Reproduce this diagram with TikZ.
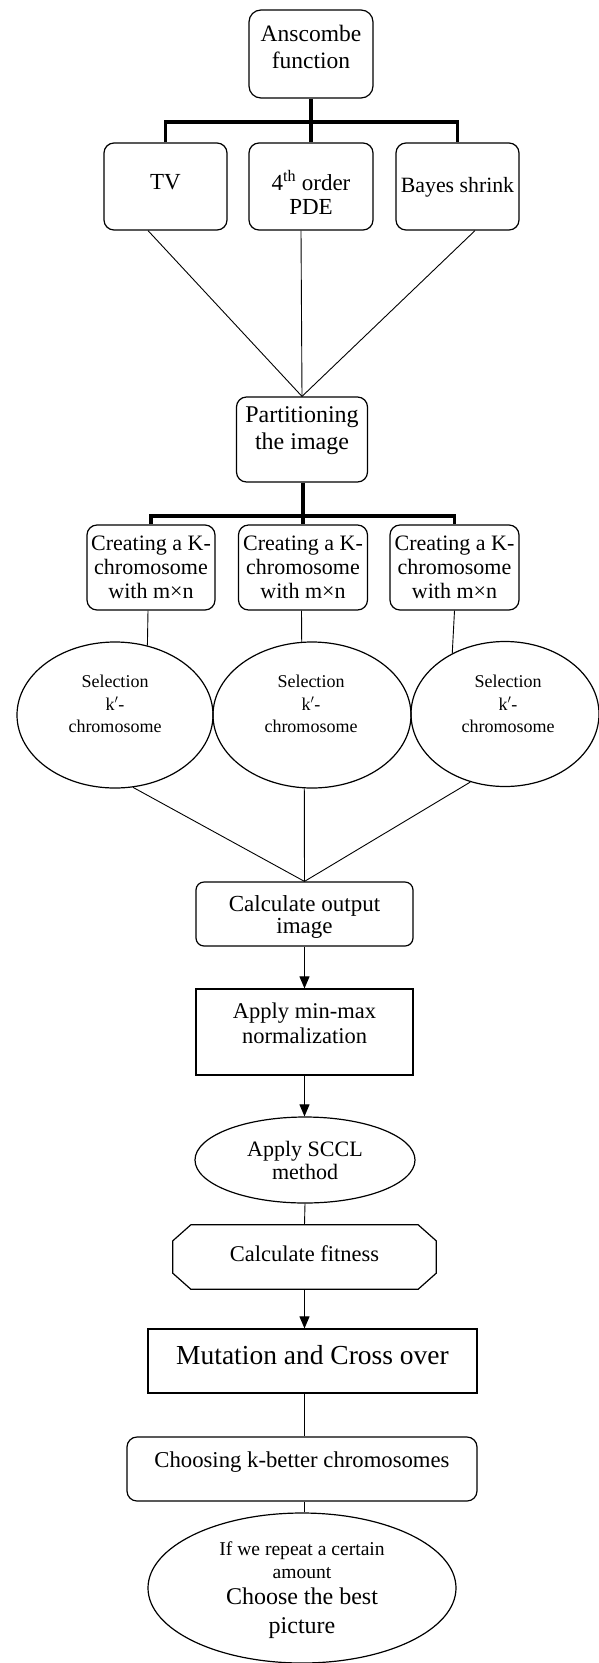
\documentclass[tikz,border=0pt]{standalone}
\usepackage{fontspec}
\setmainfont{Liberation Serif}
\usetikzlibrary{shapes.geometric,arrows.meta,calc}
\begin{document}
\begin{tikzpicture}[x=1pt,y=-1pt,
 box/.style={draw,line width=1.2pt,rounded corners=10pt,inner sep=0pt},
 sqbox/.style={draw,line width=1.2pt,inner sep=0pt},
 oval/.style={draw,ellipse,line width=1.2pt,inner sep=0pt},
 txt/.style={align=center,inner sep=0pt},
 bus/.style={line width=3.4pt},
 conn/.style={line width=0.9pt},
 arr/.style={conn,-{Triangle[width=10pt,length=12pt]}},
]
\path[use as bounding box] (0,0) rectangle (599,1663);
\fill[white] (0,0) rectangle (599,1663);
\clip (0,0) rectangle (599,1663);

% top
\node[box,rounded corners=12pt,minimum width=124,minimum height=88] (ans) at (311,54) {};
\node[txt,font=\fontsize{23.5}{27}\selectfont] (ansT) at (311,47) {Anscombe\\function};

\node[box,minimum width=123,minimum height=87] (tv) at (165.5,186.5) {};
\node[txt,font=\fontsize{23}{24}\selectfont] (tvT) at (165.5,182) {TV};
\node[box,minimum width=124,minimum height=87] (pde) at (311,186.5) {};
\node[txt,font=\fontsize{23}{24}\selectfont] (pdeT) at (311,192) {4\textsuperscript{th} order\\PDE};
\node[box,minimum width=123,minimum height=87] (bay) at (457.5,186.5) {};
\node[txt,font=\fontsize{21.8}{24}\selectfont] (bayT) at (457.5,187) {Bayes shrink};

\coordinate (b1) at (311,122);
\draw[bus] (ans.south) -- (b1);
\draw[bus] (tv.north) -- (tv.north |- b1) -- (bay.north |- b1) -- (bay.north);
\draw[bus] (b1) -- (pde.north);

\node[box,minimum width=131,minimum height=85] (part) at (302,439.5) {};
\node[txt,font=\fontsize{24}{27}\selectfont] (partT) at (302,431) {Partitioning\\the image};

\draw[conn] ([xshift=-17.5pt]tv.south) -- (part.north);
\draw[conn] ([xshift=-10pt]pde.south) -- (part.north);
\draw[conn] ([xshift=17.5pt]bay.south) -- (part.north);

% creating boxes
\node[box,minimum width=128,minimum height=85,font=\fontsize{22}{24}\selectfont,align=center] (c1) at (151,567.5) {Creating a K-\\chromosome\\with m×n};
\node[box,minimum width=129,minimum height=85,font=\fontsize{22}{24}\selectfont,align=center] (c2) at (303,567.5) {Creating a K-\\chromosome\\with m×n};
\node[box,minimum width=129,minimum height=85,font=\fontsize{22}{24}\selectfont,align=center] (c3) at (454.5,567.5) {Creating a K-\\chromosome\\with m×n};

\coordinate (b2) at (303,516);
\draw[bus] (part.south -| b2) -- (b2);
\draw[bus] (c1.north) -- (c1.north |- b2) -- (c3.north |- b2) -- (c3.north);
\draw[bus] (b2) -- (c2.north);

% selection ellipses
\node[oval,minimum width=196,minimum height=146] (e1) at (115,715) {};
\node[oval,minimum width=198,minimum height=146] (e2) at (312,715) {};
\node[oval,minimum width=188,minimum height=145] (e3) at (505,714) {};
\node[txt,font=\fontsize{18}{22.5}\selectfont] (e1T) at (115,704) {Selection\\k$'$-\\chromosome};
\node[txt,font=\fontsize{18}{22.5}\selectfont] (e2T) at (311,704) {Selection\\k$'$-\\chromosome};
\node[txt,font=\fontsize{18}{22.5}\selectfont] (e3T) at (508,704) {Selection\\k$'$-\\chromosome};

\draw[conn] ([xshift=-3pt]c1.south) -- (e1.65);
\draw[conn] ([xshift=-1.5pt]c2.south) -- (e2.98);
\draw[conn] (c3.south) -- (e3.131);

% calculate output
\node[box,rounded corners=8pt,minimum width=217,minimum height=64] (calc) at (304.5,914) {};
\node[txt,font=\fontsize{23}{22}\selectfont] (calcT) at (304.5,917) {Calculate output\\image};

\draw[conn] (e1.-76) -- (calc.north);
\draw[conn] (e2.-96) -- (calc.north);
\draw[conn] (e3.-117) -- (calc.north);

\node[sqbox,minimum width=217,minimum height=86] (mm) at (304.5,1032) {};
\node[txt,font=\fontsize{22.5}{25}\selectfont] (mmT) at (304.5,1023) {Apply min-max\\normalization};
\draw[arr] (calc.south) -- (mm.north);

\node[oval,minimum width=220,minimum height=86,font=\fontsize{22}{23}\selectfont,align=center] (sccl) at (305,1160) {Apply SCCL\\method};
\draw[arr] (mm.south) -- (mm.south |- sccl.north);

% octagon
\node[inner sep=0pt,minimum width=263,minimum height=64] (oct) at (304.5,1257) {};
\draw[line width=1.2pt] ([xshift=18pt]oct.north west) -- ([xshift=-18pt]oct.north east)
  -- ([yshift=-16pt]oct.north east) -- ([yshift=16pt]oct.south east)
  -- ([xshift=-18pt]oct.south east) -- ([xshift=18pt]oct.south west)
  -- ([yshift=16pt]oct.south west) -- ([yshift=-16pt]oct.north west) -- cycle;
\node[txt,font=\fontsize{22.5}{24}\selectfont] (octT) at (304.5,1254) {Calculate fitness};
\draw[conn] (sccl.south) -- (oct.north);

\node[sqbox,minimum width=329,minimum height=64] (mut) at (312.5,1361) {};
\node[txt,font=\fontsize{27.5}{28}\selectfont] (mutT) at (312.5,1355) {Mutation and Cross over};
\draw[arr] (oct.south) -- (oct.south |- mut.north);

\node[box,minimum width=350,minimum height=64] (choose) at (302,1469) {};
\node[txt,font=\fontsize{22.7}{24}\selectfont] (chooseT) at (302,1462) {Choosing k-better chromosomes};
\draw[conn] (mut.south -| oct.south) -- (choose.north -| oct.south);

\node[oval,minimum width=308,minimum height=150] (fin) at (302,1588) {};
\node[txt,font=\fontsize{19.6}{23}\selectfont] (finT) at (302,1590) {If we repeat a certain\\amount\\[3pt]\fontsize{24}{29}\selectfont Choose the best\\[6pt]\fontsize{24}{29}\selectfont picture};
\draw[conn] (choose.south -| oct.south) -- (fin.north -| oct.south);
\end{tikzpicture}
\end{document}
